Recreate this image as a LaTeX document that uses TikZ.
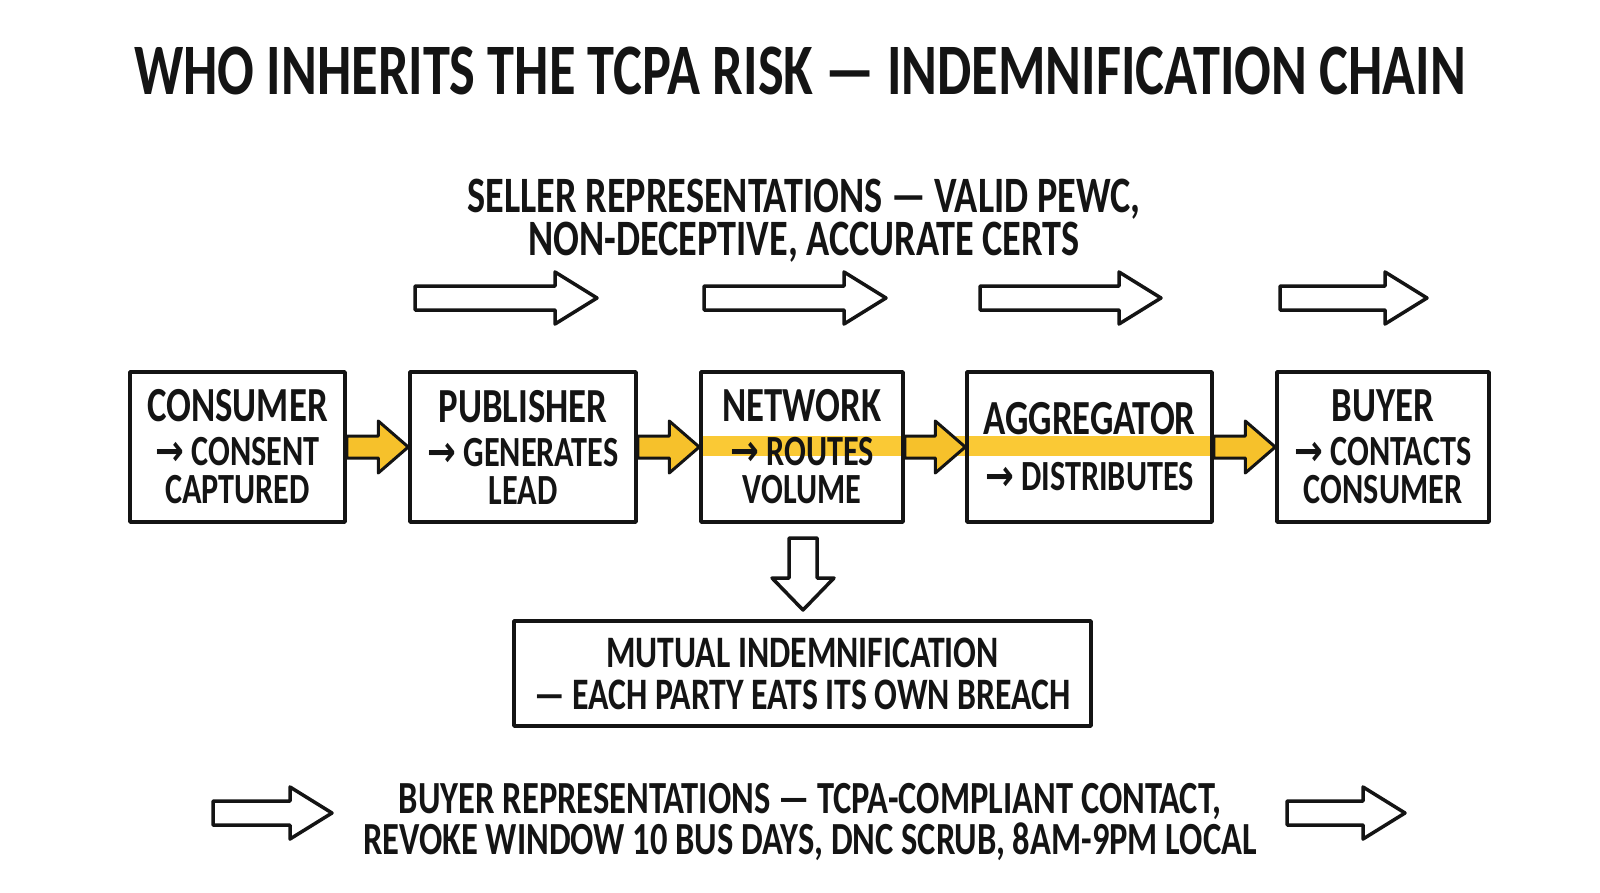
\documentclass[tikz,border=0pt]{standalone}
\usepackage{fontspec}
\setmainfont{Carlito}[FakeStretch=0.75]
\newfontfamily\symfont{DejaVu Sans}[FakeStretch=0.8]
\usetikzlibrary{calc,backgrounds}

\definecolor{ink}{HTML}{141414}
\definecolor{marker}{HTML}{F6C12B}
\definecolor{hilite}{HTML}{FAC935}

\newcommand{\rarr}{{\symfont\bfseries →}}
\newcommand{\head}[1]{{\fontsize{49}{40}\selectfont #1}}

\tikzset{
  party/.style={draw=ink, line width=3.5pt, minimum height=150pt, inner sep=0pt,
    align=center, text=ink, font=\fontsize{43}{38}\selectfont\bfseries},
  note/.style={align=center, text=ink, font=\fontsize{51}{43}\selectfont\bfseries},
  hollow/.style={draw=ink, fill=white, line width=3.5pt, line join=round},
  passon/.style={draw=ink, fill=marker, line width=3pt, line join=round},
}

% open block arrow pointing right: from x, to x, at y
\newcommand{\hollowright}[3]{%
  \draw[hollow] (#1,#3-12) -- (#2-42,#3-12) -- (#2-42,#3-26) -- (#2,#3)
    -- (#2-42,#3+26) -- (#2-42,#3+12) -- (#1,#3+12) -- cycle;}
% yellow block arrow from one box to the next
\newcommand{\passon}[2]{%
  \draw[passon] ($(#1.east)+(0,-11)$) -- ($(#2.west)+(-30,-11)$) -- ($(#2.west)+(-30,-26)$)
    -- (#2.west) -- ($(#2.west)+(-30,26)$) -- ($(#2.west)+(-30,11)$) -- ($(#1.east)+(0,11)$) -- cycle;}

\begin{document}
\begin{tikzpicture}[x=1pt, y=-1pt, line join=round, line cap=round]
  \begin{scope}[on background layer]
    \fill[white] (0,0) rectangle (1600,893);
  \end{scope}
  \useasboundingbox (0,0) rectangle (1600,893);

  % Titel
  \node[text=ink, font=\fontsize{72.5}{72}\selectfont\bfseries] (title) at (800,71)
    {WHO INHERITS THE TCPA RISK — INDEMNIFICATION CHAIN};

  % seller side, top
  \node[note] (seller) at (804,221)
    {SELLER REPRESENTATIONS — VALID PEWC,\\NON-DECEPTIVE, ACCURATE CERTS};
  \hollowright{415}{597}{298}
  \hollowright{704}{886}{298}
  \hollowright{980}{1161}{298}
  \hollowright{1280}{1427}{298}

  % the chain
  \node[party, minimum width=215pt] (consumer) at (237.5,447)
    {\head{CONSUMER}\\[6pt]\rarr\,CONSENT\\CAPTURED};
  \node[party, minimum width=226pt] (publisher) at (523,447)
    {\head{PUBLISHER}\\[6pt]\rarr\,GENERATES\\LEAD};
  \node[party, minimum width=202pt] (network) at (802,447)
    {\head{NETWORK}\\[6pt]\rarr\,ROUTES\\VOLUME};
  \node[party, minimum width=245pt] (aggregator) at (1089.5,447)
    {\head{AGGREGATOR}\\[18pt]\rarr\,DISTRIBUTES};
  \node[party, minimum width=212pt] (buyer) at (1383,447)
    {\head{BUYER}\\[6pt]\rarr\,CONTACTS\\CONSUMER};

  % marker stroke through the middle boxes
  \begin{scope}[on background layer]
    \fill[hilite] ($(network.west)+(0,-11)$) rectangle ($(aggregator.east)+(0,9)$);
  \end{scope}

  \passon{consumer}{publisher}
  \passon{publisher}{network}
  \passon{network}{aggregator}
  \passon{aggregator}{buyer}

  % down to the indemnification box
  \node[draw=ink, line width=3.5pt, minimum width=577pt, minimum height=105pt, inner sep=0pt,
    align=center, text=ink, font=\fontsize{45}{42}\selectfont\bfseries] (mutual) at (802.5,673.5)
    {MUTUAL INDEMNIFICATION\\— EACH PARTY EATS ITS OWN BREACH};
  \draw[hollow] (789,538) -- (817,538) -- (817,578) -- (834,578) -- (803,610)
    -- (772,578) -- (789,578) -- cycle;

  % buyer side, bottom
  \node[note, font=\fontsize{46}{41}\selectfont\bfseries] (buyerreps) at (810,822)
    {BUYER REPRESENTATIONS — TCPA-COMPLIANT CONTACT,\\REVOKE WINDOW 10 BUS DAYS, DNC SCRUB, 8AM-9PM LOCAL};
  \hollowright{213}{332}{813}
  \hollowright{1287}{1405}{813}
\end{tikzpicture}
\end{document}
